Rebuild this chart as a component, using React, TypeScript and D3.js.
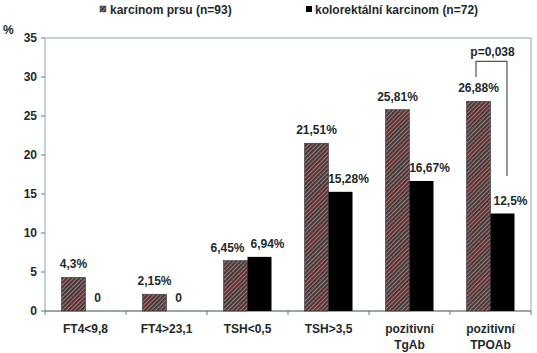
import React from 'react';
import * as d3 from 'd3';

const categories = ['FT4<9,8', 'FT4>23,1', 'TSH<0,5', 'TSH>3,5', 'pozitivní\nTgAb', 'pozitivní\nTPOAb'];
const prsu = [4.3, 2.15, 6.45, 21.51, 25.81, 26.88];
const kolorektal = [0, 0, 6.94, 15.28, 16.67, 12.5];
const prsuLabels = ['4,3%', '2,15%', '6,45%', '21,51%', '25,81%', '26,88%'];
const kolLabels = ['0', '0', '6,94%', '15,28%', '16,67%', '12,5%'];
const yTicks = [0, 5, 10, 15, 20, 25, 30, 35];

const W = 537;
const H = 353;
const m = { left: 45, right: 6, top: 38, bottom: 42 };

export default function App() {
  const x = d3.scaleBand<string>().domain(categories).range([m.left, W - m.right]);
  const y = d3.scaleLinear().domain([0, 35]).range([H - m.bottom, m.top]);
  const bw = 24;
  const font = 'Arial, "Liberation Sans", sans-serif';
  const txt = '#1e2a2a';
  const fs = 12;

  // p-value bracket over the last category
  const last = categories[categories.length - 1];
  const cx = (x(last) as number) + x.bandwidth() / 2;
  const bx1 = cx - 14.5;
  const bx2 = cx + 16.5;
  const by = y(32);

  return (
    <svg width={W} height={H} style={{ position: 'absolute', left: 0, top: 0, background: '#fff' }} fontFamily={font}>
      <defs>
        <pattern id="hatch" width="3" height="3" patternUnits="userSpaceOnUse" patternTransform="rotate(45)">
          <rect width="3" height="3" fill="#c86464" />
          <rect width="1.8" height="3" fill="#2a3f40" />
        </pattern>
      </defs>

      {/* legend */}
      <g fontSize={fs} fontWeight="bold" fill={txt}>
        <rect x={100} y={6} width={6} height={6} fill="url(#hatch)" stroke="#555" strokeWidth={0.6} />
        <text x={110} y={14}>karcinom prsu (n=93)</text>
        <rect x={306} y={6} width={6} height={6} fill="#000" />
        <text x={315} y={14}>kolorektální karcinom (n=72)</text>
      </g>

      {/* plot frame */}
      <rect x={m.left} y={m.top} width={W - m.left - m.right} height={H - m.top - m.bottom} fill="none" stroke="#8aa" strokeWidth={1} />

      {/* y axis */}
      <text x={3} y={34} fontSize={fs} fontWeight="bold" fill={txt}>%</text>
      {yTicks.map((t) => (
        <g key={t}>
          <line x1={m.left - 4} x2={m.left} y1={y(t)} y2={y(t)} stroke="#777" />
          <text x={m.left - 8} y={y(t) + 4} textAnchor="end" fontSize={fs} fontWeight="bold" fill={txt}>{t}</text>
        </g>
      ))}

      {/* x axis */}
      <line x1={m.left} x2={W - m.right} y1={y(0)} y2={y(0)} stroke="#777" />
      {categories.map((c, i) => (
        <line key={'t' + i} x1={x(c) as number} x2={x(c) as number} y1={y(0)} y2={y(0) + 4} stroke="#777" />
      ))}
      <line x1={W - m.right} x2={W - m.right} y1={y(0)} y2={y(0) + 4} stroke="#777" />

      {categories.map((c, i) => {
        const mid = (x(c) as number) + x.bandwidth() / 2;
        const lines = c.split('\n');
        const zero = kolorektal[i] === 0;
        // push the two labels apart when they sit at almost the same height
        const close = !zero && Math.abs(y(prsu[i]) - y(kolorektal[i])) < 12;
        return (
          <g key={c}>
            {prsu[i] > 0 && (
              <rect x={mid - bw} y={y(prsu[i])} width={bw} height={y(0) - y(prsu[i])} fill="url(#hatch)" stroke="#333" strokeWidth={0.6} />
            )}
            {!zero && (
              <rect x={mid} y={y(kolorektal[i])} width={bw} height={y(0) - y(kolorektal[i])} fill="#000" />
            )}
            <text x={mid - bw / 2 - (close ? 8 : 0)} y={y(prsu[i]) - 9} textAnchor="middle" fontSize={fs} fontWeight="bold" fill={txt}>{prsuLabels[i]}</text>
            <text x={mid + bw / 2 + (zero ? 0 : 8)} y={zero ? y(0) - 9 : y(kolorektal[i]) - 9} textAnchor="middle" fontSize={fs} fontWeight="bold" fill={txt}>{kolLabels[i]}</text>
            {lines.map((l, k) => (
              <text key={k} x={mid} y={y(0) + 22 + k * 16} textAnchor="middle" fontSize={fs} fontWeight="bold" fill={txt}>{l}</text>
            ))}
          </g>
        );
      })}

      {/* significance bracket */}
      <path d={`M${bx1},${y(30)} V${by} H${bx2} V${y(17.3)}`} fill="none" stroke="#4a5a5a" strokeWidth={1.2} />
      <text x={(bx1 + bx2) / 2 + 1} y={by - 5} textAnchor="middle" fontSize={fs} fontWeight="bold" fill={txt}>p=0,038</text>
    </svg>
  );
}
